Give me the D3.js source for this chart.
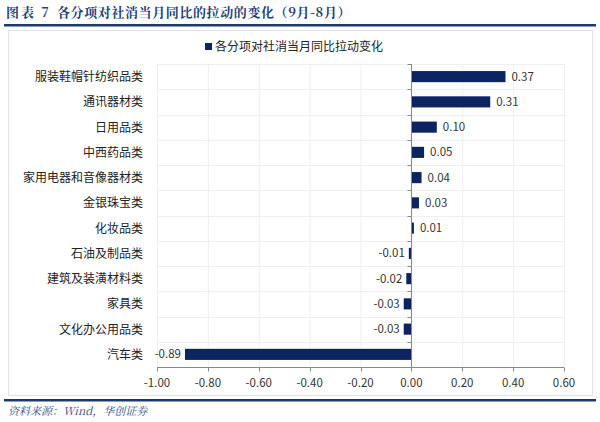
<!DOCTYPE html>
<html><head><meta charset="utf-8">
<script src="https://cdn.jsdelivr.net/npm/d3@7/dist/d3.min.js"></script>
<style>body{margin:0;background:#fff;}svg{display:block;}</style>
</head><body><svg id="c" width="600" height="422"></svg>
<script>
const categories = ["服装鞋帽针纺织品类","通讯器材类","日用品类","中西药品类","家用电器和音像器材类","金银珠宝类","化妆品类","石油及制品类","建筑及装潢材料类","家具类","文化办公用品类","汽车类"];
const values = [0.37,0.31,0.10,0.05,0.04,0.03,0.01,-0.01,-0.02,-0.03,-0.03,-0.89];
const xTicks = [-1.0,-0.8,-0.6,-0.4,-0.2,0,0.2,0.4,0.6];
const seriesName = "各分项对社消当月同比拉动变化";
const titleLabel = "图表 7";
const titleText = "各分项对社消当月同比的拉动的变化（9月-8月）";
const sourceText = "资料来源：Wind，华创证券";

const svg = d3.select("#c");
const font = "'Microsoft YaHei','Noto Sans CJK SC',sans-serif";
const navy = "#0c2461";
const lineBlue = "#1d3a6e";
const fmt = d => d3.format(".2f")(d).replace("\u2212","-");

// title
const tfont = "'Noto Serif CJK SC','Noto Sans CJK SC',serif";
svg.append("text").attr("x",6).attr("y",17).text(titleLabel)
  .attr("font-family",tfont).attr("font-weight","bold").attr("letter-spacing",2)
  .attr("font-size",13).attr("fill","#23407a");
svg.append("text").attr("x",57).attr("y",17).text(titleText)
  .attr("font-family",tfont).attr("font-weight","bold").attr("letter-spacing",0.6)
  .attr("font-size",13).attr("fill","#23407a");
svg.append("rect").attr("x",4).attr("y",24).attr("width",592).attr("height",2.5).attr("fill",lineBlue);

// chart border
svg.append("rect").attr("x",8.5).attr("y",30.5).attr("width",584).attr("height",365).attr("fill","none").attr("stroke","#e2e2e2");

const x = d3.scaleLinear().domain([-1,0.6]).range([157,564]);
const y = d3.scaleBand().domain(categories).range([64,367]).paddingInner(0.56).paddingOuter(0.28);
const band = d3.scaleBand().domain(categories).range([64,367]);

// grid
const g = svg.append("g");
g.selectAll(".vg").data(xTicks).join("line").attr("x1",d=>x(d)+0.5).attr("x2",d=>x(d)+0.5)
  .attr("y1",64).attr("y2",367).attr("stroke","#efefef");
g.selectAll(".hg").data(categories).join("line").attr("x1",157).attr("x2",564)
  .attr("y1",d=>Math.round(band(d))+0.5).attr("y2",d=>Math.round(band(d))+0.5).attr("stroke","#efefef");

// bars
svg.selectAll(".bar").data(values).join("rect")
  .attr("x",d=>x(Math.min(0,d))).attr("width",d=>Math.abs(x(d)-x(0)))
  .attr("y",(d,i)=>y(categories[i])).attr("height",y.bandwidth()).attr("fill",navy);

// value labels
svg.selectAll(".vl").data(values).join("text")
  .attr("x",d=> d>=0 ? x(d)+6 : x(d)-4)
  .attr("y",(d,i)=>band(categories[i])+band.bandwidth()/2+4)
  .attr("text-anchor",d=>d>=0?"start":"end")
  .attr("font-family",font).attr("font-size",11.5).attr("fill","#333")
  .text(fmt);

// y axis (at zero)
const ya = svg.append("g").attr("transform",`translate(${Math.round(x(0))+0.5},0)`);
ya.append("line").attr("y1",64).attr("y2",367).attr("stroke","#888");
ya.selectAll("line.t").data(categories).join("line").attr("class","t").attr("x1",-4).attr("x2",0)
  .attr("y1",d=>Math.round(band(d))+0.5).attr("y2",d=>Math.round(band(d))+0.5).attr("stroke","#888");

// category labels
svg.selectAll(".cl").data(categories).join("text")
  .attr("x",143).attr("y",d=>band(d)+band.bandwidth()/2+4.5).attr("text-anchor","end")
  .attr("font-family",font).attr("font-size",12).attr("fill","#222").text(d=>d);

// x axis
const xa = svg.append("g").attr("transform","translate(0,367.5)");
xa.append("line").attr("x1",157).attr("x2",564).attr("stroke","#888");
xa.selectAll("line.t").data(xTicks).join("line").attr("class","t").attr("x1",d=>Math.round(x(d))+0.5).attr("x2",d=>Math.round(x(d))+0.5)
  .attr("y1",0).attr("y2",4).attr("stroke","#888");
xa.selectAll("text").data(xTicks).join("text").attr("x",d=>x(d)).attr("y",19).attr("text-anchor","middle")
  .attr("font-family",font).attr("font-size",11.5).attr("fill","#333").text(fmt);

// legend
svg.append("rect").attr("x",205).attr("y",43).attr("width",7).attr("height",7).attr("fill",navy);
svg.append("text").attr("x",215).attr("y",51).attr("font-family",font).attr("font-size",12).attr("fill","#222").text(seriesName);

// bottom line and source
svg.append("rect").attr("x",4).attr("y",399).attr("width",592).attr("height",2.5).attr("fill",lineBlue);
svg.append("text").attr("x",8).attr("y",415).text(sourceText)
  .attr("font-family",tfont).attr("font-style","italic")
  .attr("font-size",11).attr("fill","#2a4a8a");
</script></body></html>
